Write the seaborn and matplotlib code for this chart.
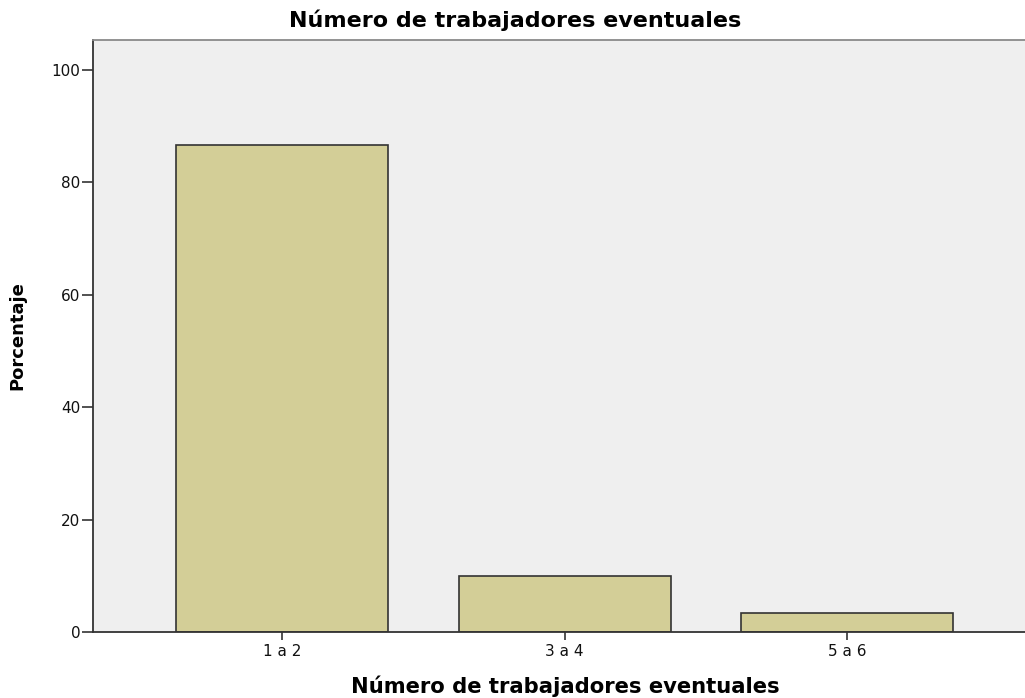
import matplotlib
matplotlib.use("Agg")
import matplotlib.pyplot as plt
import seaborn as sns
import pandas as pd

# valores
categorias = ["1 a 2", "3 a 4", "5 a 6"]
porcentajes = [86.7, 10.0, 3.3]
titulo = "Número de trabajadores eventuales"

df = pd.DataFrame({"cat": categorias, "pct": porcentajes})

sns.set_theme(style="white")
plt.rcParams['font.family'] = ['DejaVu Sans']
plt.rcParams['text.color'] = 'black'

fig = plt.figure(figsize=(10.25, 6.98), dpi=100)
ax = fig.add_axes([0.0907, 0.0946, 0.9093, 0.8481])
ax.set_facecolor("#efefef")

sns.barplot(data=df, x="cat", y="pct", color="#d3ce97", saturation=1,
            width=0.75, edgecolor="#333333", linewidth=1.2, ax=ax)

ax.set_xlim(-0.67, 2.63)
ax.set_ylim(0, 105.3)
ax.set_yticks([0, 20, 40, 60, 80, 100])
ax.tick_params(axis="both", direction="out", width=1.2, color="#333333",
               labelsize=11, labelcolor="#111111", left=True, bottom=True)
ax.tick_params(axis="y", length=8, pad=1)
ax.tick_params(axis="x", length=6, pad=3)
ax.set_xlabel("")
ax.set_ylabel("Porcentaje", fontsize=13, fontweight="bold", labelpad=18,
              color="black")

for s in ["left", "bottom"]:
    ax.spines[s].set_color("#333333")
    ax.spines[s].set_linewidth(1.3)
ax.spines["top"].set_color("#8a8a8a")
ax.spines["top"].set_linewidth(1.3)
ax.spines["right"].set_visible(False)

fig.text(515 / 1025, 1 - 20 / 698, titulo, ha="center", va="center",
         fontsize=16, fontweight="bold")
fig.text(565 / 1025, 1 - 686 / 698, titulo, ha="center", va="center",
         fontsize=15.2, fontweight="bold")

fig.savefig("out.png", dpi=100)
